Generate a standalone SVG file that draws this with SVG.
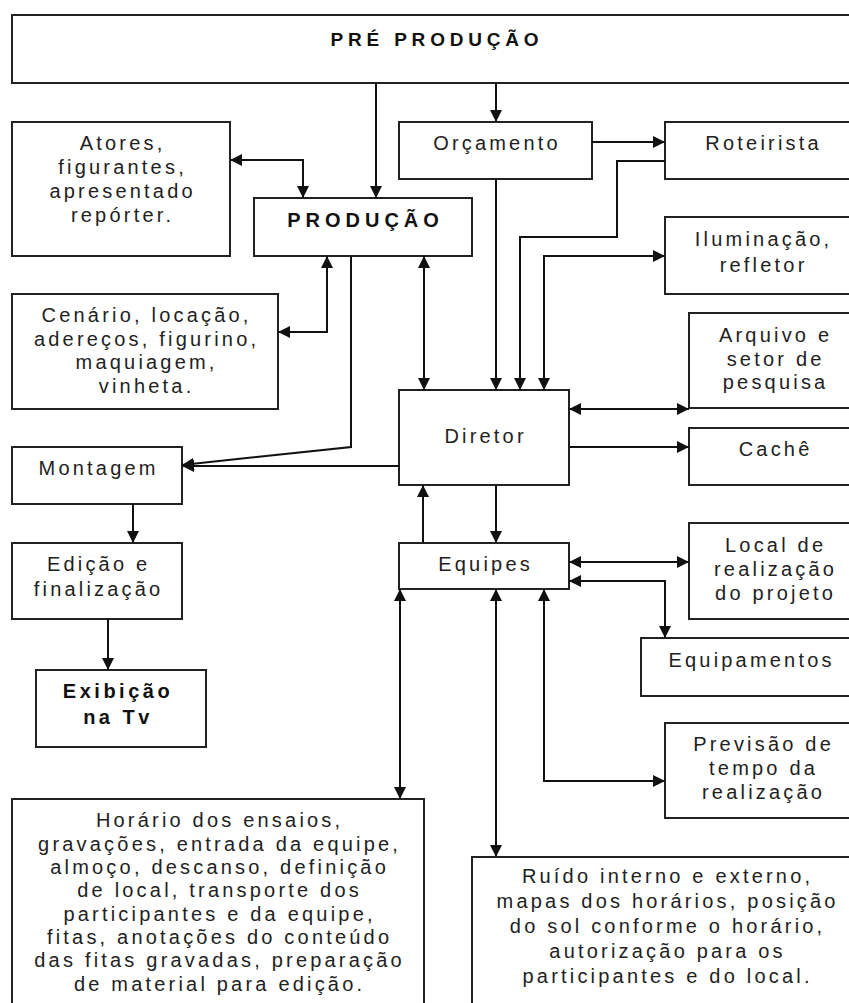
<svg xmlns="http://www.w3.org/2000/svg" width="849" height="1003" viewBox="0 0 849 1003">
<style>
.box{fill:#fff;stroke:#222;stroke-width:2}
.t{font-family:"Liberation Sans",Arial,sans-serif;font-size:20px;letter-spacing:3.2px;fill:#222;text-anchor:middle}
.b{font-weight:bold;fill:#111}
.c{fill:none;stroke:#111;stroke-width:2}
</style>
<defs>
<marker id="ah" viewBox="0 0 12 12" markerWidth="12" markerHeight="12" refX="12" refY="6" orient="auto-start-reverse" markerUnits="userSpaceOnUse">
<path d="M0,0 L12,6 L0,12 z" fill="#111"/>
</marker>
</defs>
<rect width="849" height="1003" fill="#fff"/>

<g id="pre-producao"><rect class="box" x="12" y="15" width="845" height="68"/><text class="t b" x="437" y="46" style="font-size:19px;letter-spacing:4.8px">PRÉ PRODUÇÃO</text></g>
<g id="atores"><rect class="box" x="12" y="122" width="218" height="134"/><text class="t" x="122.6"><tspan x="122.6" y="150">Atores,</tspan><tspan x="122.6" y="174">figurantes,</tspan><tspan x="122.6" y="198">apresentado</tspan><tspan x="122.6" y="222">repórter.</tspan></text></g>
<g id="orcamento"><rect class="box" x="399" y="122" width="193" height="57"/><text class="t" x="497" y="150">Orçamento</text></g>
<g id="roteirista"><rect class="box" x="665" y="122" width="194" height="57"/><text class="t" x="763.6" y="150">Roteirista</text></g>
<g id="producao"><rect class="box" x="254" y="198" width="218" height="58"/><text class="t b" x="365.5" y="227" style="letter-spacing:5px">PRODUÇÃO</text></g>
<g id="iluminacao"><rect class="box" x="665" y="217" width="194" height="77"/><text class="t"><tspan x="763.6" y="246">Iluminação,</tspan><tspan x="763.6" y="272">refletor</tspan></text></g>
<g id="cenario"><rect class="box" x="12" y="294" width="266" height="115"/><text class="t"><tspan x="146.6" y="322">Cenário, locação,</tspan><tspan x="146.6" y="346">adereços, figurino,</tspan><tspan x="146.6" y="369">maquiagem,</tspan><tspan x="146.6" y="393">vinheta.</tspan></text></g>
<g id="arquivo"><rect class="box" x="689" y="313" width="170" height="95"/><text class="t"><tspan x="775.6" y="342">Arquivo e</tspan><tspan x="775.6" y="366">setor de</tspan><tspan x="775.6" y="389">pesquisa</tspan></text></g>
<g id="diretor"><rect class="box" x="399" y="390" width="170" height="95"/><text class="t" x="485.6" y="443">Diretor</text></g>
<g id="cache"><rect class="box" x="689" y="428" width="170" height="57"/><text class="t" x="775.6" y="456">Cachê</text></g>
<g id="montagem"><rect class="box" x="12" y="447" width="170" height="57"/><text class="t" x="98.6" y="475">Montagem</text></g>
<g id="edicao"><rect class="box" x="12" y="543" width="170" height="76"/><text class="t"><tspan x="98.6" y="571">Edição e</tspan><tspan x="98.6" y="596">finalização</tspan></text></g>
<g id="equipes"><rect class="box" x="399" y="543" width="170" height="46"/><text class="t" x="485.6" y="571">Equipes</text></g>
<g id="local"><rect class="box" x="689" y="523" width="170" height="96"/><text class="t"><tspan x="775.6" y="552">Local de</tspan><tspan x="775.6" y="576">realização</tspan><tspan x="775.6" y="600">do projeto</tspan></text></g>
<g id="equipamentos"><rect class="box" x="641" y="638" width="218" height="58"/><text class="t" x="751.6" y="667">Equipamentos</text></g>
<g id="exibicao"><rect class="box" x="36" y="670" width="170" height="77"/><text class="t b" style="font-size:20px;letter-spacing:3.5px"><tspan x="118" y="698">Exibição</tspan><tspan x="118" y="724">na Tv</tspan></text></g>
<g id="previsao"><rect class="box" x="665" y="723" width="194" height="95"/><text class="t"><tspan x="763.6" y="751">Previsão de</tspan><tspan x="763.6" y="775">tempo da</tspan><tspan x="763.6" y="799">realização</tspan></text></g>
<g id="horario"><rect class="box" x="12" y="799" width="412" height="215"/><text class="t"><tspan x="219.6" y="827">Horário dos ensaios,</tspan><tspan x="219.6" y="850.5">gravações, entrada da equipe,</tspan><tspan x="219.6" y="874">almoço, descanso, definição</tspan><tspan x="219.6" y="897">de local, transporte dos</tspan><tspan x="219.6" y="920.5">participantes e da equipe,</tspan><tspan x="219.6" y="944">fitas, anotações do conteúdo</tspan><tspan x="219.6" y="967">das fitas gravadas, preparação</tspan><tspan x="219.6" y="990.5">de material para edição.</tspan></text></g>
<g id="ruido"><rect class="box" x="472" y="857" width="388" height="160"/><text class="t"><tspan x="667.6" y="883">Ruído interno e externo,</tspan><tspan x="667.6" y="908">mapas dos horários, posição</tspan><tspan x="667.6" y="933">do sol conforme o horário,</tspan><tspan x="667.6" y="958">autorização para os</tspan><tspan x="667.6" y="983">participantes e do local.</tspan></text></g>

<g id="connectors">
<path class="c" d="M376,83 V198" marker-end="url(#ah)"/>
<path class="c" d="M496,83 V122" marker-end="url(#ah)"/>
<path class="c" d="M230,160 H303 V198" marker-start="url(#ah)" marker-end="url(#ah)"/>
<path class="c" d="M592,142 H665" marker-end="url(#ah)"/>
<path class="c" d="M665,161 H617 V237 H520 V390" marker-end="url(#ah)"/>
<path class="c" d="M496,179 V390" marker-end="url(#ah)"/>
<path class="c" d="M665,256 H544 V390" marker-start="url(#ah)" marker-end="url(#ah)"/>
<path class="c" d="M424,256 V390" marker-start="url(#ah)" marker-end="url(#ah)"/>
<path class="c" d="M327,256 V332 H278" marker-start="url(#ah)" marker-end="url(#ah)"/>
<path class="c" d="M351,256 V447 L182,465" marker-end="url(#ah)"/>
<path class="c" d="M399,466 H182" marker-end="url(#ah)"/>
<path class="c" d="M569,409 H689" marker-start="url(#ah)" marker-end="url(#ah)"/>
<path class="c" d="M569,447 H689" marker-end="url(#ah)"/>
<path class="c" d="M133,504 V543" marker-end="url(#ah)"/>
<path class="c" d="M108,619 V670" marker-end="url(#ah)"/>
<path class="c" d="M496,485 V543" marker-end="url(#ah)"/>
<path class="c" d="M423,543 V485" marker-end="url(#ah)"/>
<path class="c" d="M569,562 H689" marker-start="url(#ah)" marker-end="url(#ah)"/>
<path class="c" d="M569,581 H665 V638" marker-start="url(#ah)" marker-end="url(#ah)"/>
<path class="c" d="M400,589 V799" marker-start="url(#ah)" marker-end="url(#ah)"/>
<path class="c" d="M496,589 V857" marker-start="url(#ah)" marker-end="url(#ah)"/>
<path class="c" d="M544,589 V781 H665" marker-start="url(#ah)" marker-end="url(#ah)"/>
</g>
</svg>
